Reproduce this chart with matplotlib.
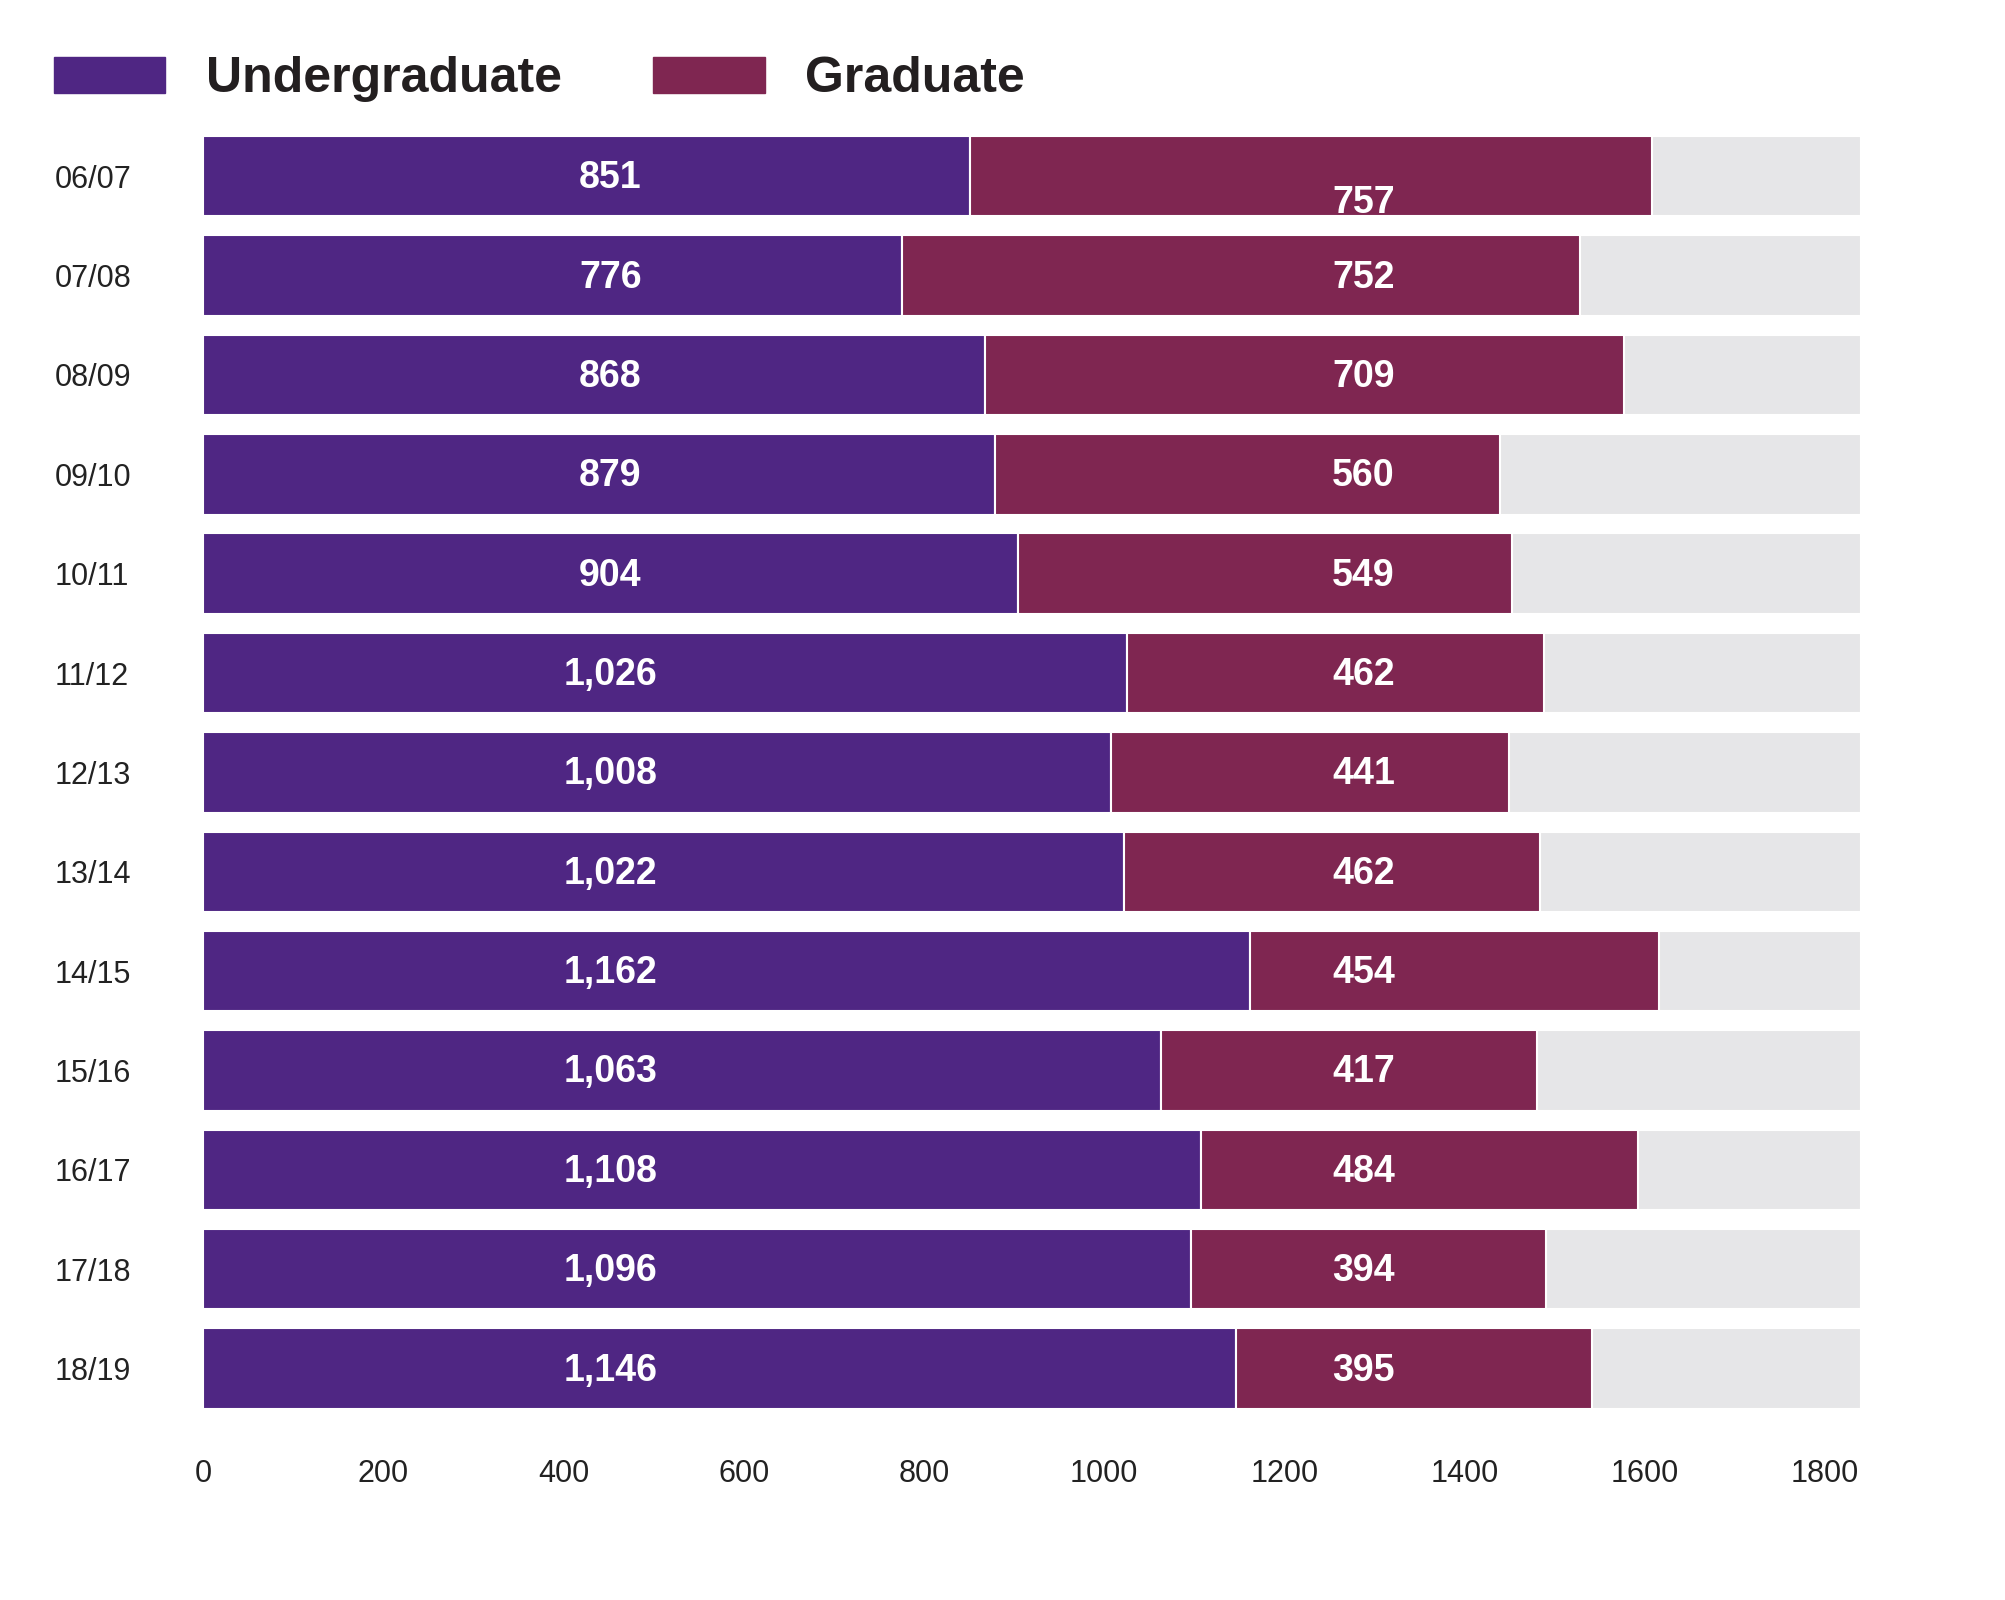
import matplotlib.pyplot as plt
from matplotlib.patches import Rectangle

plt.rcParams['font.family'] = ['Liberation Sans', 'DejaVu Sans']

# Data
years = ['06/07', '07/08', '08/09', '09/10', '10/11', '11/12', '12/13',
         '13/14', '14/15', '15/16', '16/17', '17/18', '18/19']
undergrad = [851, 776, 868, 879, 904, 1026, 1008, 1022, 1162, 1063, 1108, 1096, 1146]
graduate = [757, 752, 709, 560, 549, 462, 441, 462, 454, 417, 484, 394, 395]
xticks = [0, 200, 400, 600, 800, 1000, 1200, 1400, 1600, 1800]

# Styles
purple = '#4F2683'
maroon = '#7F2651'
grey = '#E6E6E8'
x_max = 1840
bar_h = 0.81

fig = plt.figure(figsize=(20.06, 16), dpi=100)
ax = fig.add_axes([0.1012, 0.1195, 0.8265, 0.7955])

rows = range(len(years))
ax.barh(rows, [x_max] * len(years), height=bar_h, color=grey, edgecolor='white', linewidth=1.5)
ax.barh(rows, undergrad, height=bar_h, color=purple, edgecolor='white', linewidth=1.5)
ax.barh(rows, graduate, left=undergrad, height=bar_h, color=maroon, edgecolor='white', linewidth=1.5)

# value labels sit at fixed columns
for i in rows:
    ax.text(452, i + 0.02, f'{undergrad[i]:,}', ha='center', va='center',
            color='white', fontsize=27, fontweight='bold')
    dy = 0.27 if i == 0 else 0.02
    ax.text(1288, i + dy, f'{graduate[i]:,}', ha='center', va='center',
            color='white', fontsize=27, fontweight='bold')

ax.set_xlim(0, x_max)
ax.set_ylim(len(years) - 1 + bar_h / 2, -bar_h / 2)
ax.set_yticks(list(rows))
ax.set_yticklabels(years, fontsize=22, color='#222222', ha='left')
ax.tick_params(axis='y', length=0, pad=107)
ax.set_xticks(xticks)
ax.set_xticklabels([str(t) for t in xticks], fontsize=22, color='#222222')
ax.tick_params(axis='x', length=0, pad=36)
for s in ax.spines.values():
    s.set_visible(False)

# legend drawn by hand
fig.add_artist(Rectangle((54 / 2006, 1 - 93 / 1600), 111 / 2006, 36 / 1600,
                         transform=fig.transFigure, color=purple))
fig.text(206 / 2006, 1 - 79 / 1600, 'Undergraduate', fontsize=36, fontweight='bold',
         color='#231F20', va='center', ha='left')
fig.add_artist(Rectangle((653 / 2006, 1 - 93 / 1600), 112 / 2006, 36 / 1600,
                         transform=fig.transFigure, color=maroon))
fig.text(805 / 2006, 1 - 79 / 1600, 'Graduate', fontsize=36, fontweight='bold',
         color='#231F20', va='center', ha='left')

fig.savefig('out.png', dpi=100)
